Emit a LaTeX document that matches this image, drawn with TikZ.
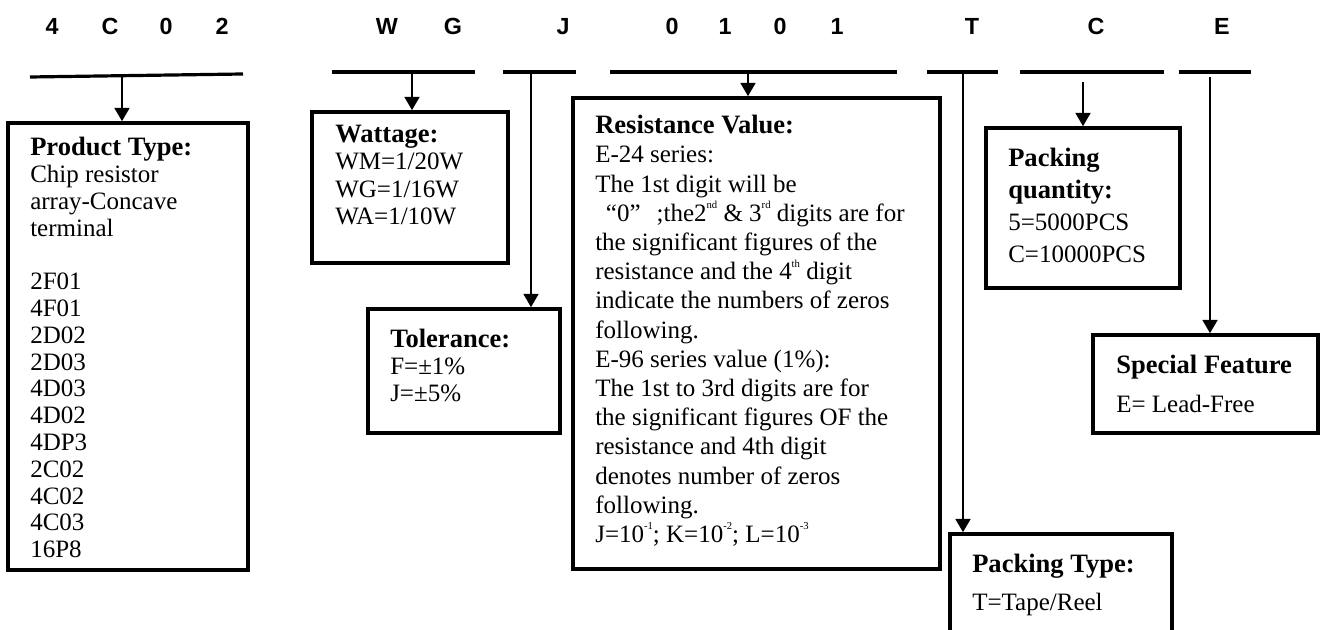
\documentclass[tikz,border=0pt]{standalone}
\usepackage{fontspec}
\setmainfont{Liberation Serif}
\newfontfamily\codefont{Liberation Sans}
\usepackage{tikz}
\usetikzlibrary{arrows.meta}
\newcommand\tinysup[1]{\raisebox{0.5em}{\fontsize{8}{8}\selectfont #1}}
\newcommand\boxfont[1]{\fontsize{18.75}{#1}\selectfont}
\newcommand\boxtitle[1]{{\fontsize{19.9}{\baselineskip}\selectfont\bfseries #1}}

\begin{document}
\begin{tikzpicture}[x=0.75pt, y=-0.75pt,
    box/.style={draw, rectangle, line width=2.6pt, inner sep=0pt},
    txt/.style={anchor=north west, inner sep=0pt, align=left},
    code/.style={anchor=base, inner sep=0pt, font=\codefont\bfseries\fontsize{17.5}{20}\selectfont},
    bar/.style={line width=2.4pt},
    arr/.style={line width=2pt, -{Triangle[length=10pt, width=11pt]}}]
    \useasboundingbox (0,0) rectangle (1320,630);
    \clip (0,0) rectangle (1320,630);

    % Part number
    \foreach \x/\c [count=\i] in {52/4, 110/C, 166/0, 222/2, 387/W, 453/G, 563/J,
        672/0, 725/1, 780/0, 837/1, 972/T, 1096/C, 1222/E}
        \node[code] (h\i) at (\x,35) {\c};

    % Bars under the groups
    \coordinate (b1l) at (30,77);   \coordinate (b1r) at (243,74);
    \coordinate (b2l) at (332,72);  \coordinate (b2r) at (475,72);
    \coordinate (b3l) at (503,72);  \coordinate (b3r) at (576,72);
    \coordinate (b4l) at (610,72);  \coordinate (b4r) at (897,72);
    \coordinate (b5l) at (927,72);  \coordinate (b5r) at (998,72);
    \coordinate (b6l) at (1020,72); \coordinate (b6r) at (1164,72);
    \coordinate (b7l) at (1179,72); \coordinate (b7r) at (1251,72);
    \draw[bar] (b1l) -- (b1r);
    \draw[bar] (b2l) -- (b2r);
    \draw[bar] (b3l) -- (b3r);
    \draw[bar] (b4l) -- (b4r);
    \draw[bar] (b5l) -- (b5r);
    \draw[bar] (b6l) -- (b6r);
    \draw[bar] (b7l) -- (b7r);

    % Boxes
    \node[box, minimum width=180pt, minimum height=335.25pt] (prod) at (128,346.5) {};
    \node[box, minimum width=147pt, minimum height=113.25pt] (watt) at (410,187.5) {};
    \node[box, minimum width=144pt, minimum height=93pt] (tol) at (464,371) {};
    \node[box, minimum width=275.25pt, minimum height=353.25pt] (res) at (756.5,333.5) {};
    \node[box, minimum width=145.5pt, minimum height=120pt] (pqty) at (1083,208) {};
    \node[box, minimum width=168.75pt, minimum height=73.5pt] (spec) at (1205.5,384) {};
    \node[box, minimum width=166.5pt, minimum height=94.5pt] (ptype) at (1061,597) {};

    % Box texts
    \node[txt, font=\boxfont{20.1pt}] (prodtxt) at (30,137) {\boxtitle{Product Type:}\\
        Chip resistor\\ array-Concave\\ terminal\\[20.1pt]
        2F01\\ 4F01\\ 2D02\\ 2D03\\ 4D03\\ 4D02\\ 4DP3\\ 2C02\\ 4C02\\ 4C03\\ 16P8};
    \node[txt, font=\boxfont{20.5pt}] (watttxt) at (335,125) {\boxtitle{Wattage:}\\
        WM=1/20W\\ WG=1/16W\\ WA=1/10W};
    \node[txt, font=\boxfont{20pt}] (toltxt) at (390,329) {\boxtitle{Tolerance:}\\
        F=±1\%\\ J=±5\%};
    \node[txt, font=\boxfont{21.9pt}] (restxt) at (595,115) {\boxtitle{Resistance Value:}\\
        E-24 series:\\
        The 1st digit will be\\
        \hspace{8pt}“0”\hspace{12pt};the2\tinysup{nd} \& 3\tinysup{rd} digits are for\\
        the significant figures of the\\
        resistance and the 4\tinysup{th} digit\\
        indicate the numbers of zeros\\
        following.\\
        E-96 series value (1\%):\\
        The 1st to 3rd digits are for\\
        the significant figures OF the\\
        resistance and 4th digit\\
        denotes number of zeros\\
        following.\\
        J=10\tinysup{-1}; K=10\tinysup{-2}; L=10\tinysup{-3}};
    \node[txt, font=\boxfont{24pt}] (pqtytxt) at (1008,148) {\boxtitle{Packing}\\
        \boxtitle{quantity:}\\ 5=5000PCS\\ C=10000PCS};
    \node[txt, font=\boxfont{29pt}] (spectxt) at (1116,355) {\boxtitle{Special Feature}\\
        E= Lead-Free};
    \node[txt, font=\boxfont{28.5pt}] (ptypetxt) at (972,554) {\boxtitle{Packing Type:}\\
        T=Tape/Reel};

    % Arrows from the bars down to the boxes
    \coordinate (s1) at (122,75.5);
    \coordinate (s2) at (412,72);
    \coordinate (s3) at (531,72);
    \coordinate (s4) at (748,72);
    \coordinate (s5) at (963,72);
    \coordinate (s6) at (1083,82);
    \coordinate (s7) at (1210,77);
    \draw[arr] (s1) -- (s1 |- prod.north);
    \draw[arr] (s2) -- (s2 |- watt.north);
    \draw[arr] (s3) -- (s3 |- tol.north);
    \draw[arr] (s4) -- (s4 |- res.north);
    \draw[arr] (s5) -- (s5 |- ptype.north);
    \draw[arr] (s6) -- (s6 |- pqty.north);
    \draw[arr] (s7) -- (s7 |- spec.north);
\end{tikzpicture}
\end{document}
